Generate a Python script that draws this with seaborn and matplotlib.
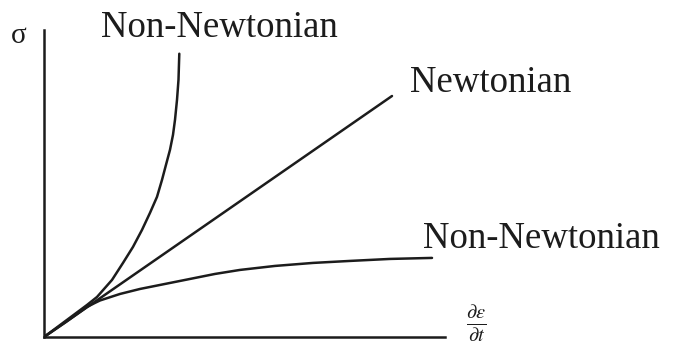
import matplotlib
matplotlib.use("Agg")
import matplotlib.pyplot as plt
import pandas as pd
import seaborn as sns

# Strain rate (x) and shear stress (y) in arbitrary units
thick_rate = [0.0, 1.072, 1.322, 1.696, 1.970, 2.219, 2.444, 2.643, 2.818,
              2.943, 3.042, 3.142, 3.217, 3.267, 3.317, 3.354, 3.374]
thick_stress = [0.0, 1.043, 1.304, 1.859, 2.413, 2.934, 3.489, 4.043, 4.565,
                5.119, 5.608, 6.097, 6.586, 7.075, 7.727, 8.380, 9.227]

newt_rate = [0.0, 8.678]
newt_stress = [0.0, 7.85]

thin_rate = [0.0, 0.549, 1.072, 1.27, 1.397, 1.895, 2.394, 3.017, 3.641,
             4.264, 4.888, 5.761, 6.708, 7.631, 8.628, 9.676]
thin_stress = [0.0, 0.489, 0.978, 1.11, 1.19, 1.402, 1.565, 1.728, 1.891,
               2.054, 2.185, 2.315, 2.413, 2.478, 2.543, 2.576]

curve_labels = ["Non-Newtonian", "Newtonian", "Non-Newtonian"]
stress_label = "σ"
rate_label = r"$\frac{\partial\varepsilon}{\partial t}$"

frames = []
for name, xs, ys in [("thickening", thick_rate, thick_stress),
                     ("newtonian", newt_rate, newt_stress),
                     ("thinning", thin_rate, thin_stress)]:
    frames.append(pd.DataFrame({"rate": xs, "stress": ys, "fluid": name}))
df = pd.concat(frames, ignore_index=True)

sns.set_theme(style="white")
plt.rcParams["font.family"] = ["Liberation Serif", "DejaVu Serif"]
plt.rcParams["mathtext.fontset"] = "stix"

W, H = 677, 347
fig = plt.figure(figsize=(W / 100, H / 100), dpi=100)
ax = fig.add_axes([44 / W, (H - 337) / H, 401 / W, 307 / H])

ink = "#1c1c1c"
sns.lineplot(data=df, x="rate", y="stress", units="fluid", estimator=None,
             sort=False, color=ink, linewidth=1.8, ax=ax, legend=False)
for line in ax.lines:
    line.set_solid_joinstyle("round")
    line.set_solid_capstyle("round")

ax.set_xlim(0, 10)
ax.set_ylim(0, 10)
ax.set_xticks([])
ax.set_yticks([])
ax.set_xlabel("")
ax.set_ylabel("")
for side in ["top", "right"]:
    ax.spines[side].set_visible(False)
for side in ["left", "bottom"]:
    ax.spines[side].set_color(ink)
    ax.spines[side].set_linewidth(1.8)


def at(x, y):
    """Figure-fraction coordinates from pixel positions measured from the top left."""
    return x / W, 1 - y / H


fs = 26.5
fig.text(*at(101, 37), curve_labels[0], fontsize=fs, color=ink,
         ha="left", va="baseline")
fig.text(*at(410, 92), curve_labels[1], fontsize=fs, color=ink,
         ha="left", va="baseline")
fig.text(*at(423, 248), curve_labels[2], fontsize=fs, color=ink,
         ha="left", va="baseline")
fig.text(*at(19, 36), stress_label, fontsize=21, color=ink,
         ha="center", va="center")
fig.text(*at(476, 344), rate_label, fontsize=21, color=ink,
         ha="center", va="bottom")

fig.savefig("out.png", dpi=100, facecolor="white")
